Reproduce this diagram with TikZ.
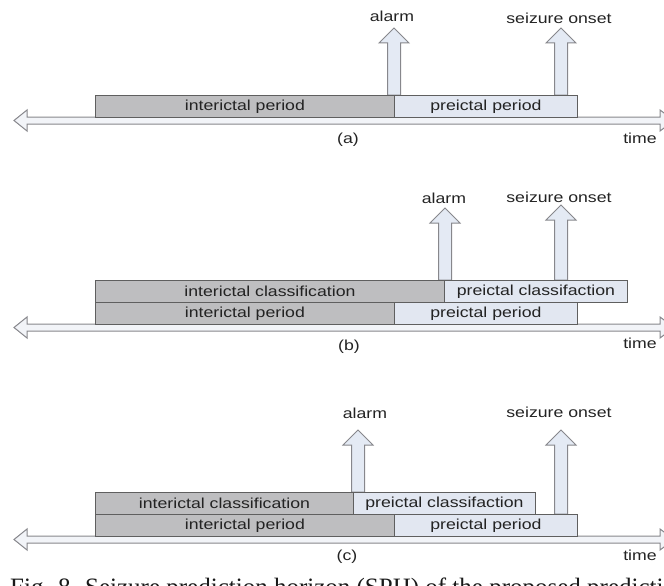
\documentclass[tikz,border=0pt]{standalone}
\usepackage{fontspec}
\setmainfont{Liberation Serif}
\newfontfamily\labfont[FakeStretch=1.22]{Liberation Sans}
\definecolor{darkfill}{RGB}{190,190,192}
\definecolor{lightfill}{RGB}{226,231,241}
\definecolor{boxline}{RGB}{95,95,95}
\definecolor{arrline}{RGB}{135,135,140}
\definecolor{arrfill}{RGB}{228,234,244}
\definecolor{axfill}{RGB}{242,244,248}
\definecolor{txt}{RGB}{35,35,35}
\tikzset{
  seg/.style={draw=boxline, line width=0.9pt, minimum height=22pt, inner sep=0pt,
    font=\labfont\fontsize{14.5}{14.5}\selectfont, text=txt},
  lab/.style={font=\labfont\fontsize{14.5}{14.5}\selectfont, text=txt, inner sep=0pt},
  arrowst/.style={draw=arrline, fill=arrfill, line width=1pt, line join=miter},
  axisst/.style={draw=arrline, fill=axfill, line width=1pt, line join=miter},
}
% box: name, x1, x2, ytop, fill, text
\newcommand\segbox[6]{\node[seg, fill=#5, minimum width={#3-#2}, anchor=north west] (#1) at (#2,#4) {#6};}
% up arrow: x, tip, bottom
\newcommand\uparr[3]{\draw[arrowst] (#1-6.5,#3) -- (#1-6.5,#2+15) -- (#1-15,#2+15) -- (#1,#2)
   -- (#1+15,#2+15) -- (#1+6.5,#2+15) -- (#1+6.5,#3) -- cycle;}
% time axis: y of top line
\newcommand\timeaxis[1]{\draw[axisst] (27,#1) -- (27,#1-7) -- (14,#1+3.5) -- (27,#1+14) -- (27,#1+7)
   -- (660,#1+7) -- (660,#1+14) -- (674,#1+3.5) -- (660,#1-7) -- (660,#1) -- cycle;}
\begin{document}
\begin{tikzpicture}[x=1pt,y=-1pt]
\useasboundingbox (0,0) rectangle (664,586);
% ---------- (a) ----------
\timeaxis{117}
\uparr{394}{28}{95}
\uparr{561}{28}{95}
\segbox{ipA}{95}{394}{95}{darkfill}{interictal period}
\segbox{ppA}{394}{577}{95}{lightfill}{preictal period}
\node[lab] (alA) at (392,16) {alarm};
\node[lab] (soA) at (559,18) {seizure onset};
\node[lab] (capA) at (348,140) {(a)};
\node[lab] (tA) at (640,138) {time};
% ---------- (b) ----------
\timeaxis{324}
\uparr{445}{208}{280}
\uparr{561}{205}{280}
\segbox{icB}{95}{444}{280}{darkfill}{interictal classification}
\segbox{pcB}{444}{627}{280}{lightfill}{preictal classifaction}
\segbox{ipB}{95}{394}{302}{darkfill}{interictal period}
\segbox{ppB}{394}{577}{302}{lightfill}{preictal period}
\node[lab] (alB) at (444,198) {alarm};
\node[lab] (soB) at (559,197) {seizure onset};
\node[lab] (capB) at (349,347) {(b)};
\node[lab] (tB) at (640,343) {time};
% ---------- (c) ----------
\timeaxis{536}
\uparr{358}{430}{492}
\uparr{561}{430}{514}
\segbox{icC}{95}{353}{492}{darkfill}{interictal classification}
\segbox{pcC}{353}{535}{492}{lightfill}{preictal classifaction}
\segbox{ipC}{95}{394}{514}{darkfill}{interictal period}
\segbox{ppC}{394}{577}{514}{lightfill}{preictal period}
\node[lab] (alC) at (365,413) {alarm};
\node[lab] (soC) at (559,412) {seizure onset};
\node[lab] (capC) at (347,557) {(c)};
\node[lab] (tC) at (640,555) {time};
% ---------- caption (cut off by the page edge, as in the source) ----------
\node[anchor=base west, inner sep=0pt, font=\fontsize{25}{25}\selectfont, text=black!90] (fig) at (10,595)
  {Fig. 8. Seizure prediction horizon (SPH) of the proposed prediction};
\end{tikzpicture}
\end{document}
